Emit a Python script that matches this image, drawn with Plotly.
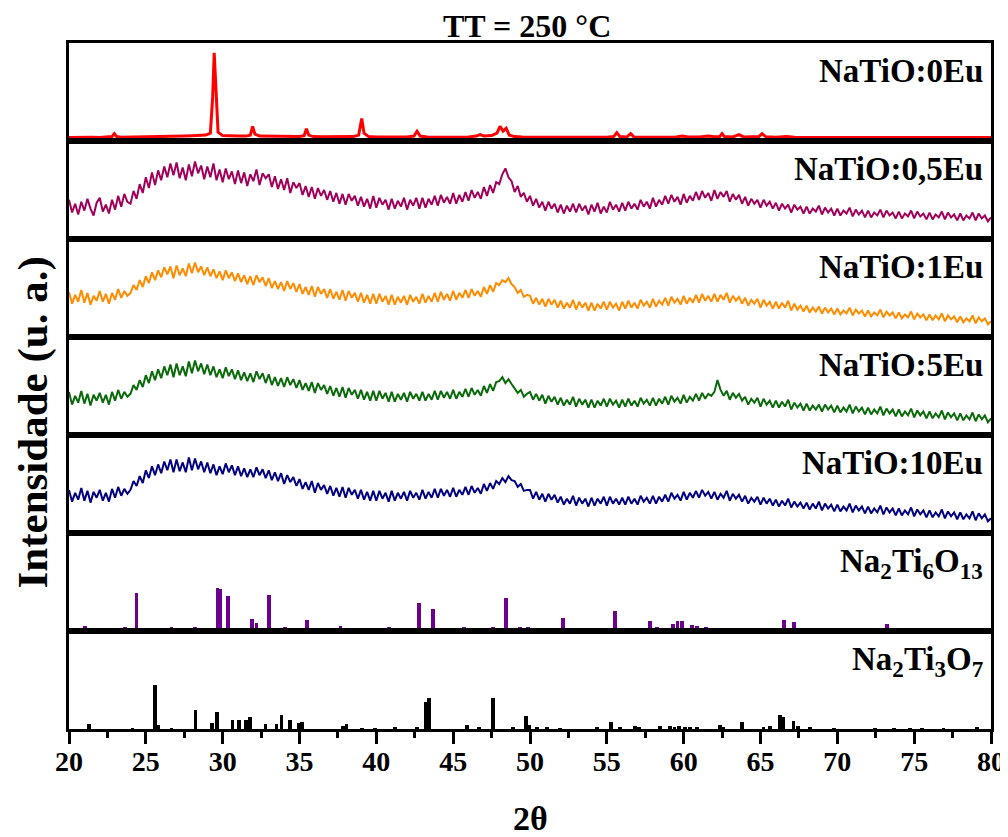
import plotly.graph_objects as go
from plotly.subplots import make_subplots

# ---------------- data ----------------
# NaTiO:0Eu (crystalline), explicit 2theta / intensity (% of panel height)
x_0eu = [20.0, 20.5, 21.0, 21.5, 22.0, 22.5, 22.8, 22.95, 23.1, 23.4, 24.0, 24.5, 25.0, 25.5, 26.0,
         26.5, 27.0, 27.5, 28.0, 28.5, 28.9, 29.2, 29.35, 29.45, 29.55, 29.7, 30.0, 30.5, 31.0, 31.5,
         31.8, 31.95, 32.1, 32.4, 33.0, 33.5, 34.0, 34.5, 35.0, 35.3, 35.45, 35.6, 35.9, 36.5, 37.0,
         37.5, 38.0, 38.5, 38.85, 39.05, 39.2, 39.5, 40.0, 40.5, 41.0, 41.5, 42.0, 42.45, 42.65, 42.85,
         43.3, 44.0, 44.5, 45.0, 45.5, 46.0, 46.5, 46.75, 47.0, 47.5, 47.85, 48.05, 48.25, 48.45, 48.65,
         49.0, 49.5, 50.0, 51.0, 52.0, 53.0, 54.0, 55.0, 55.45, 55.65, 55.85, 56.3, 56.55, 56.75, 57.5,
         58.5, 59.5, 59.9, 60.3, 61.0, 61.6, 62.0, 62.35, 62.5, 62.65, 63.2, 63.6, 63.9, 64.5, 64.9,
         65.1, 65.35, 66.0, 66.7, 67.2, 68.0, 69.0, 70.0, 71.0, 72.0, 73.0, 74.0, 75.0, 76.0, 77.0,
         78.0, 79.0, 80.0]
y_0eu = [3.5, 3.8, 3.4, 3.7, 3.5, 3.8, 4.5, 7.5, 4.5, 3.8, 3.9, 4.0, 4.0, 4.3, 4.4,
         4.6, 4.9, 5.0, 5.3, 5.6, 6.0, 8.0, 45, 90, 50, 9.0, 5.5, 5.0, 5.0, 5.0,
         6.0, 15, 7.0, 5.0, 4.8, 4.6, 4.6, 4.5, 4.6, 5.5, 12.5, 6.0, 4.5, 4.3, 4.2,
         4.3, 4.3, 4.5, 6.0, 23, 8.0, 4.5, 4.2, 4.2, 4.1, 4.0, 4.0, 5.0, 10, 5.0,
         4.0, 3.9, 3.8, 3.9, 4.0, 4.2, 5.0, 6.5, 5.0, 5.5, 8.0, 15, 10, 13, 6.0,
         4.5, 4.0, 3.8, 3.7, 3.8, 3.6, 3.7, 3.8, 4.5, 8.5, 4.5, 4.0, 7.5, 4.2, 3.8,
         3.9, 4.0, 5.0, 4.0, 4.2, 5.0, 4.3, 4.6, 7.5, 4.5, 4.2, 6.5, 4.2, 4.0, 4.5,
         7.5, 4.3, 3.9, 4.6, 3.8, 3.8, 3.7, 3.7, 3.7, 3.8, 3.6, 3.7, 3.7, 3.6, 3.7,
         3.6, 3.6, 3.6]

# amorphous samples: 2theta from 20 to 80 in 0.2 steps
two_theta = [round(20 + 0.2 * i, 1) for i in range(301)]

y_05eu = [40, 27, 36, 25, 38, 29, 41, 31, 24, 37, 42, 28, 35, 26, 40, 30, 44, 33, 46, 38,
          36, 49, 41, 56, 47, 63, 52, 68, 55, 70, 60, 74, 63, 77, 65, 78, 62, 73, 60, 76,
          64, 79, 67, 75, 61, 74, 63, 77, 60, 71, 58, 72, 61, 69, 56, 70, 57, 68, 54, 66,
          59, 71, 55, 67, 62, 66, 53, 64, 51, 61, 50, 62, 47, 58, 52, 57, 45, 54, 43, 53,
          41, 52, 44, 50, 40, 49, 38, 47, 36, 46, 35, 46, 39, 44, 34, 43, 33, 41, 31, 44,
          32, 42, 35, 40, 30, 41, 31, 39, 33, 42, 30, 40, 34, 42, 31, 42, 32, 41, 35, 44,
          34, 45, 37, 43, 36, 47, 36, 45, 38, 48, 39, 50, 42, 48, 41, 53, 44, 55, 47, 58,
          56, 66, 72, 63, 59, 48, 54, 43, 47, 38, 44, 34, 41, 32, 38, 29, 38, 31, 36, 27,
          35, 26, 34, 28, 36, 27, 36, 29, 34, 25, 35, 28, 37, 26, 33, 27, 38, 30, 35, 28,
          37, 29, 38, 31, 36, 30, 40, 33, 38, 31, 42, 33, 40, 35, 44, 36, 45, 38, 43, 35,
          46, 37, 44, 39, 48, 40, 49, 42, 47, 39, 50, 41, 48, 43, 49, 38, 46, 40, 45, 36,
          43, 34, 41, 36, 40, 32, 40, 34, 38, 31, 37, 29, 36, 31, 35, 27, 35, 30, 33, 26,
          33, 26, 31, 28, 34, 25, 32, 27, 31, 24, 31, 24, 29, 26, 32, 23, 30, 25, 29, 22,
          29, 22, 27, 24, 30, 22, 29, 24, 27, 21, 28, 21, 26, 23, 29, 21, 28, 23, 26, 20,
          27, 20, 25, 22, 28, 20, 27, 22, 25, 19, 26, 19, 24, 21, 27, 19, 26, 21, 24, 18,
          22]

y_1eu = [46, 34, 43, 36, 48, 35, 45, 33, 42, 37, 47, 36, 44, 34, 45, 38, 49, 40, 47, 42,
         45, 53, 48, 58, 51, 62, 55, 66, 58, 68, 61, 71, 64, 72, 60, 73, 63, 70, 62, 75,
         65, 76, 66, 72, 63, 71, 62, 69, 60, 67, 58, 68, 60, 66, 57, 65, 56, 63, 54, 62,
         53, 63, 56, 61, 52, 60, 50, 57, 49, 56, 47, 57, 49, 55, 46, 54, 44, 51, 43, 52,
         41, 51, 44, 49, 40, 49, 39, 46, 38, 48, 37, 47, 40, 45, 36, 45, 35, 43, 34, 44,
         34, 44, 36, 42, 33, 43, 33, 41, 35, 42, 33, 43, 36, 41, 34, 44, 35, 42, 36, 45,
         36, 46, 38, 44, 37, 47, 38, 45, 40, 48, 40, 49, 42, 47, 41, 51, 44, 53, 46, 55,
         53, 58, 56, 60, 54, 51, 45, 48, 41, 43, 42, 34, 40, 33, 39, 31, 39, 33, 38, 30,
         37, 29, 35, 30, 38, 28, 36, 30, 35, 27, 35, 27, 34, 29, 36, 28, 36, 30, 34, 27,
         36, 29, 37, 30, 35, 29, 38, 32, 36, 30, 39, 31, 37, 33, 40, 32, 41, 35, 39, 33,
         42, 34, 40, 35, 43, 35, 44, 37, 42, 36, 44, 36, 43, 38, 45, 35, 42, 37, 41, 34,
         40, 32, 38, 34, 39, 30, 38, 32, 36, 29, 36, 29, 35, 30, 37, 27, 34, 28, 32, 26,
         32, 25, 30, 26, 31, 24, 30, 25, 29, 23, 29, 23, 27, 24, 30, 22, 28, 24, 27, 21,
         27, 21, 25, 22, 28, 20, 26, 22, 25, 19, 25, 19, 23, 20, 26, 18, 24, 20, 23, 17,
         23, 17, 22, 18, 24, 16, 22, 18, 21, 15, 21, 15, 19, 16, 22, 14, 20, 16, 19, 13,
         16]

y_5eu = [44, 31, 40, 33, 45, 32, 42, 30, 41, 35, 43, 33, 41, 31, 44, 35, 46, 37, 44, 39,
         42, 51, 46, 56, 49, 61, 53, 65, 56, 67, 58, 70, 61, 72, 59, 73, 61, 70, 60, 75,
         63, 76, 65, 73, 62, 72, 61, 70, 59, 67, 58, 69, 60, 67, 57, 66, 56, 64, 55, 63,
         54, 65, 57, 63, 53, 62, 51, 59, 50, 58, 49, 59, 51, 57, 48, 56, 46, 53, 45, 54,
         43, 53, 46, 51, 42, 50, 40, 48, 39, 49, 38, 48, 41, 46, 37, 46, 36, 44, 35, 45,
         35, 45, 37, 43, 34, 44, 34, 42, 36, 43, 34, 44, 37, 42, 35, 44, 35, 42, 36, 45,
         36, 45, 38, 44, 37, 46, 37, 44, 39, 47, 39, 48, 41, 46, 40, 50, 43, 52, 45, 54,
         55, 59, 53, 57, 52, 48, 43, 46, 39, 42, 44, 36, 42, 35, 41, 32, 40, 34, 39, 31,
         38, 30, 36, 31, 39, 29, 37, 31, 36, 28, 36, 28, 35, 30, 37, 29, 37, 31, 35, 28,
         36, 29, 37, 30, 35, 29, 38, 32, 36, 30, 38, 30, 37, 32, 39, 31, 40, 34, 38, 32,
         41, 33, 39, 35, 42, 35, 43, 37, 42, 40, 44, 56, 46, 40, 45, 36, 43, 38, 42, 35,
         39, 31, 37, 33, 38, 29, 37, 31, 35, 28, 35, 28, 34, 29, 36, 26, 33, 28, 32, 25,
         32, 25, 30, 26, 31, 24, 31, 26, 30, 23, 30, 23, 28, 24, 31, 22, 29, 24, 28, 21,
         28, 21, 26, 22, 29, 20, 27, 22, 26, 19, 26, 19, 24, 20, 27, 18, 25, 20, 24, 17,
         24, 17, 22, 18, 25, 16, 23, 18, 22, 15, 22, 15, 20, 16, 23, 14, 21, 16, 20, 13,
         17]

y_10eu = [44, 32, 41, 34, 46, 33, 43, 31, 42, 36, 44, 33, 41, 32, 45, 36, 47, 38, 45, 40,
          44, 53, 48, 58, 51, 64, 56, 68, 59, 70, 61, 73, 64, 75, 62, 75, 63, 72, 62, 77,
          64, 76, 65, 73, 62, 72, 61, 70, 59, 68, 60, 71, 62, 69, 59, 68, 58, 66, 57, 65,
          57, 67, 59, 65, 56, 64, 54, 62, 53, 61, 50, 59, 52, 57, 48, 55, 45, 52, 44, 53,
          41, 51, 44, 49, 40, 48, 38, 46, 37, 47, 36, 46, 39, 44, 35, 44, 34, 42, 33, 43,
          33, 43, 35, 41, 32, 43, 33, 41, 35, 42, 33, 43, 36, 41, 34, 44, 35, 42, 36, 45,
          36, 45, 38, 44, 37, 46, 37, 44, 39, 47, 39, 48, 41, 46, 40, 50, 43, 51, 45, 53,
          50, 56, 52, 58, 54, 53, 47, 50, 43, 44, 44, 35, 42, 34, 40, 32, 40, 34, 39, 31,
          37, 29, 35, 30, 38, 28, 36, 30, 35, 27, 36, 28, 35, 30, 37, 28, 37, 30, 35, 29,
          36, 29, 37, 30, 35, 29, 38, 32, 36, 30, 38, 30, 37, 32, 39, 32, 41, 35, 39, 33,
          42, 34, 41, 36, 43, 36, 44, 38, 42, 35, 42, 34, 40, 36, 43, 33, 40, 35, 39, 32,
          38, 30, 36, 32, 37, 29, 36, 30, 35, 28, 34, 27, 33, 28, 35, 26, 32, 27, 31, 25,
          31, 24, 30, 25, 32, 23, 30, 25, 29, 22, 29, 22, 27, 23, 30, 21, 28, 23, 27, 20,
          27, 20, 25, 21, 28, 19, 26, 21, 25, 18, 25, 18, 23, 19, 26, 17, 24, 19, 23, 16,
          23, 16, 21, 17, 24, 15, 22, 17, 21, 14, 21, 14, 19, 15, 22, 13, 20, 15, 19, 12,
          15]

# reference patterns (stick positions, relative intensity %)
x_na2ti6o13 = [21.02, 23.63, 24.39, 26.67, 26.95, 28.19, 29.2, 29.66, 29.83, 30.36, 30.72,
               31.92, 32.2, 33.02, 33.28, 34.05, 34.74, 35.5, 37.19, 37.67, 39.15, 40.84,
               42.77, 43.7, 44.14, 45.7, 47.61, 48.42, 49.35, 49.87, 50.5, 51.2, 52.13,
               53.09, 53.8, 55.53, 56.12, 57.81, 58.25, 59.29, 59.6, 59.9, 60.53, 60.85,
               61.46, 62.91, 63.89, 64.54, 65.19, 65.74, 66.54, 67.19, 68.56, 70.19,
               71.82, 73.23, 74.74, 76.37, 78.65, 79.09]
i_na2ti6o13 = [5, 4, 39, 4, 1, 4, 1, 44, 43, 36, 3,
               12, 8, 37, 2, 4, 3, 11, 2, 5, 3, 4,
               29, 22, 2, 4, 4, 34, 4, 4, 3, 3, 13,
               2, 2, 20, 3, 10, 4, 7, 10, 10, 6, 5,
               4, 2, 3, 2, 3, 3, 11, 9, 3, 1,
               3, 7, 1, 1, 2, 2]

x_na2ti3o7 = [21.28, 24.13, 25.58, 25.8, 26.67, 28.23, 29.31, 29.64, 30.64, 31.07, 31.5,
              31.77, 32.79, 33.5, 33.83, 34.37, 34.98, 35.17, 37.84, 38.06, 39.04, 39.9,
              41.2, 42.66, 43.23, 43.44, 45.92, 46.7, 47.61, 48.91, 49.72, 49.93, 50.43,
              51.09, 51.96, 54.35, 55.28, 55.86, 56.84, 57.12, 58.46, 59.1, 59.4, 59.7,
              60.1, 60.42, 60.85, 62.37, 62.59, 63.78, 65.19, 65.63, 66.28, 66.45, 67.15,
              67.43, 68.24, 69.76, 72.47, 73.66, 74.74, 75.5, 76.91, 79.09]
i_na2ti3o7 = [5, 1, 45, 4, 1, 19, 6, 17, 9, 9, 9,
              12, 5, 5, 14, 9, 6, 7, 3, 5, 1, 1,
              2, 2, 28, 32, 4, 2, 32, 2, 13, 4, 2,
              2, 1, 2, 7, 2, 3, 2, 3, 3, 2, 3,
              2, 2, 2, 4, 2, 7, 2, 3, 14, 12, 8,
              3, 2, 1, 1, 1, 1, 1, 1, 2]

labels = ["NaTiO:0Eu", "NaTiO:0,5Eu", "NaTiO:1Eu", "NaTiO:5Eu", "NaTiO:10Eu",
          "Na<sub>2</sub>Ti<sub>6</sub>O<sub>13</sub>", "Na<sub>2</sub>Ti<sub>3</sub>O<sub>7</sub>"]
colors = ["#FF0000", "#A0005A", "#FF8C00", "#0A6A0A", "#000080", "#6E0090", "#000000"]

# ---------------- figure ----------------
FONT = "Liberation Serif"
fig = make_subplots(rows=7, cols=1, shared_xaxes=True, vertical_spacing=0)

fig.add_trace(go.Scatter(x=x_0eu, y=y_0eu, mode="lines",
                         line=dict(color=colors[0], width=3)), row=1, col=1)
for k, ys in enumerate([y_05eu, y_1eu, y_5eu, y_10eu]):
    fig.add_trace(go.Scatter(x=two_theta, y=ys, mode="lines",
                             line=dict(color=colors[k + 1], width=2)), row=k + 2, col=1)
fig.add_trace(go.Bar(x=x_na2ti6o13, y=i_na2ti6o13, width=0.25,
                     marker=dict(color=colors[5], line=dict(width=0))), row=6, col=1)
fig.add_trace(go.Bar(x=x_na2ti3o7, y=i_na2ti3o7, width=0.25,
                     marker=dict(color=colors[6], line=dict(width=0))), row=7, col=1)

for r in range(1, 8):
    fig.update_yaxes(range=[0, 100], showticklabels=False, ticks="", showgrid=False,
                     zeroline=False, showline=True, mirror=True, linewidth=3,
                     linecolor="black", automargin=False, row=r, col=1)
    fig.update_xaxes(range=[20, 80], showgrid=False, zeroline=False, showline=True,
                     mirror=True, linewidth=3, linecolor="black", row=r, col=1,
                     showticklabels=False, ticks="", automargin=False)

fig.update_xaxes(row=7, col=1, showticklabels=True, ticks="outside", ticklen=12,
                 tickwidth=2.5, tickcolor="black", dtick=5, tick0=20,
                 ticklabelstandoff=-7,
                 minor=dict(ticks="outside", ticklen=6, tickwidth=2.5, dtick=2.5,
                            tickcolor="black"),
                 tickfont=dict(family=FONT, size=28, color="black", weight="bold"))

annotations = []
for r, lab in enumerate(labels, start=1):
    yref = "y domain" if r == 1 else f"y{r} domain"
    xref = "x domain" if r == 1 else f"x{r} domain"
    annotations.append(dict(text=lab, xref=xref, yref=yref, x=0.994, y=0.92,
                            xanchor="right", yanchor="top", showarrow=False,
                            font=dict(family=FONT, size=33, color="black", weight="bold")))
annotations.append(dict(text="TT = 250 °C", xref="paper", yref="paper", x=0.497, y=1.0245,
                        xanchor="center", yanchor="middle", showarrow=False,
                        font=dict(family=FONT, size=32, color="black", weight="bold")))
annotations.append(dict(text="Intensidade (u. a.)", xref="paper", yref="paper", x=-0.039,
                        y=0.447, xanchor="center", yanchor="middle", textangle=-90,
                        showarrow=False,
                        font=dict(family=FONT, size=43, color="black", weight="bold")))
annotations.append(dict(text="2θ", xref="paper", yref="paper", x=0.5, y=-0.13,
                        xanchor="center", yanchor="middle", showarrow=False,
                        font=dict(family=FONT, size=34, color="black", weight="bold")))

# the page adds an 8px body margin, so margins are reduced by 8px on the left/top
fig.update_layout(width=1008, height=837, showlegend=False,
                  margin=dict(l=61, r=25, t=35, b=116, autoexpand=False),
                  plot_bgcolor="white", paper_bgcolor="white",
                  annotations=annotations, bargap=0)

fig.write_html("out.html")
